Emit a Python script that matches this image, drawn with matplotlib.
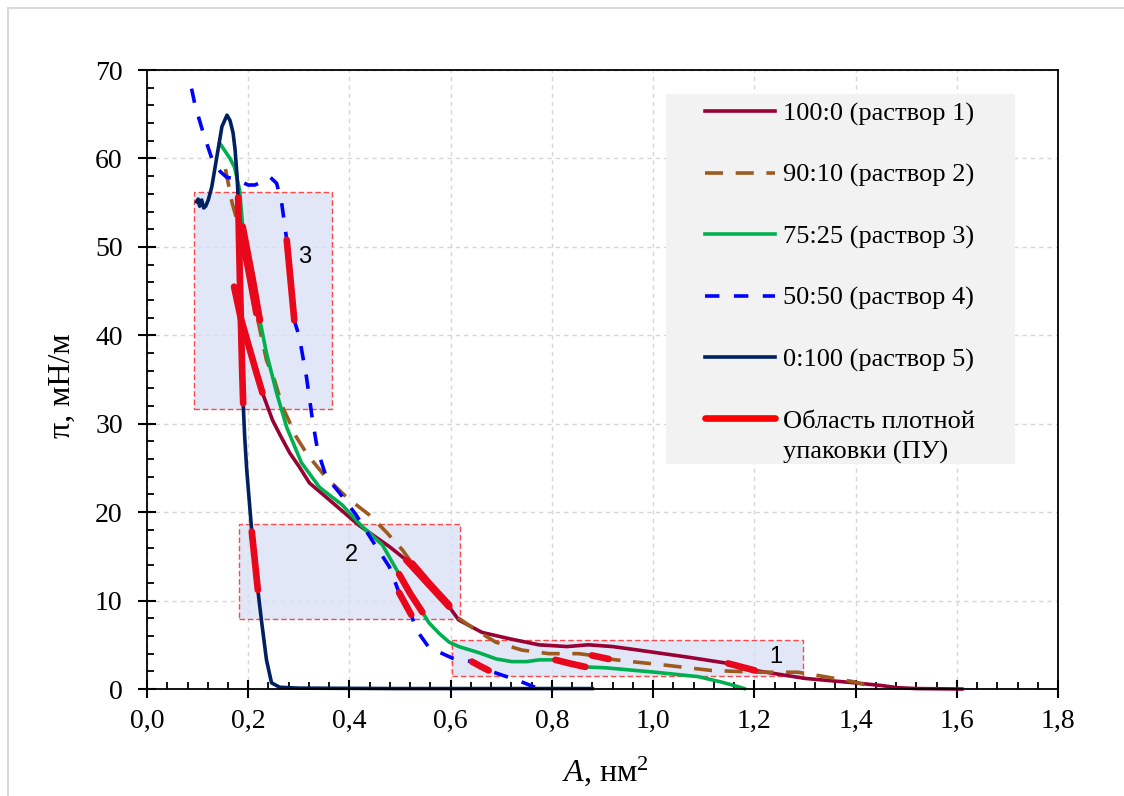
import matplotlib
matplotlib.use("Agg")
import numpy as np
import matplotlib.pyplot as plt
from matplotlib.patches import Rectangle
from matplotlib.lines import Line2D
from matplotlib.ticker import MultipleLocator, FuncFormatter

plt.rcParams['font.family'] = ['Liberation Serif', 'DejaVu Serif']
plt.rcParams['mathtext.fontset'] = 'custom'
plt.rcParams['mathtext.rm'] = 'Liberation Serif'
plt.rcParams['mathtext.it'] = 'Liberation Serif:italic'

# isotherms: area per molecule A (nm2) vs surface pressure pi (mN/m)
a1 = [0.172, 0.185, 0.200, 0.215, 0.228, 0.248, 0.265, 0.282, 0.300, 0.321,
      0.360, 0.419, 0.479, 0.512, 0.560, 0.597, 0.616, 0.662, 0.715, 0.774,
      0.830, 0.872, 0.920, 0.971, 1.069, 1.148, 1.201, 1.300, 1.398, 1.450,
      1.483, 1.520, 1.610]
p1 = [45.5, 42.0, 39.0, 36.0, 33.5, 30.4, 28.5, 26.7, 25.2, 23.3,
      21.4, 18.5, 16.1, 14.6, 11.6, 9.3, 7.8, 6.4, 5.7, 5.0,
      4.8, 5.0, 4.8, 4.4, 3.6, 2.9, 2.1, 1.2, 0.7, 0.4,
      0.15, 0.05, 0.0]

a2 = [0.155, 0.168, 0.185, 0.200, 0.216, 0.236, 0.252, 0.268, 0.295, 0.317,
      0.354, 0.396, 0.439, 0.472, 0.505, 0.524, 0.560, 0.597, 0.616, 0.649,
      0.689, 0.741, 0.794, 0.853, 0.879, 0.912, 0.957, 1.024, 1.115, 1.207,
      1.286, 1.339, 1.398, 1.443]
p2 = [58.8, 55.0, 51.5, 47.5, 42.5, 37.2, 34.9, 31.9, 28.5, 26.5,
      23.9, 21.6, 19.7, 17.8, 15.7, 14.2, 11.8, 9.5, 8.0, 6.7,
      5.3, 4.4, 4.0, 4.0, 3.8, 3.4, 3.1, 2.7, 2.1, 1.9,
      1.9, 1.4, 0.8, 0.1]

a3 = [0.144, 0.164, 0.173, 0.183, 0.189, 0.209, 0.223, 0.236, 0.256, 0.276,
      0.305, 0.341, 0.386, 0.423, 0.465, 0.498, 0.520, 0.544, 0.557, 0.577,
      0.597, 0.616, 0.656, 0.690, 0.721, 0.750, 0.775, 0.807, 0.835, 0.866,
      0.906, 1.004, 1.089, 1.134, 1.160, 1.180]
p3 = [61.7, 60.0, 59.0, 56.4, 52.3, 46.3, 41.7, 38.0, 33.5, 29.6,
      25.6, 22.8, 20.8, 18.5, 16.3, 13.0, 10.8, 8.7, 7.5, 6.3,
      5.3, 4.8, 4.1, 3.4, 3.1, 3.1, 3.3, 3.3, 2.9, 2.5,
      2.4, 1.9, 1.4, 0.8, 0.4, 0.05]

a4 = [0.088, 0.095, 0.111, 0.128, 0.145, 0.157, 0.177, 0.200, 0.213, 0.228,
      0.243, 0.256, 0.266, 0.276, 0.284, 0.291, 0.301, 0.315, 0.327, 0.337,
      0.354, 0.380, 0.413, 0.445, 0.479, 0.498, 0.522, 0.532, 0.557, 0.580,
      0.603, 0.622, 0.642, 0.658, 0.675, 0.700, 0.721, 0.745, 0.762, 0.768]
p4 = [67.9, 66.0, 62.9, 60.0, 58.5, 57.9, 57.6, 57.0, 57.0, 57.4,
      57.9, 57.2, 55.0, 50.8, 46.0, 41.7, 39.8, 35.3, 30.4, 27.0,
      24.0, 22.2, 19.7, 16.8, 13.8, 10.9, 8.4, 6.7, 4.7, 4.1,
      3.5, 3.3, 3.1, 2.6, 2.1, 1.6, 1.2, 0.7, 0.3, 0.2]

a5 = [0.098, 0.101, 0.104, 0.108, 0.112, 0.116, 0.121, 0.128, 0.138, 0.148,
      0.158, 0.164, 0.170, 0.174, 0.178, 0.180, 0.184, 0.188, 0.190, 0.193,
      0.197, 0.207, 0.213, 0.219, 0.226, 0.236, 0.246, 0.262, 0.300, 0.500,
      0.880]
p5 = [55.1, 55.4, 54.6, 55.3, 54.4, 54.6, 55.3, 56.8, 60.2, 63.6,
      64.9, 64.3, 62.9, 61.0, 57.9, 55.6, 45.0, 36.0, 32.3, 28.5,
      24.8, 17.8, 14.5, 11.2, 7.8, 3.3, 0.7, 0.2, 0.1, 0.05,
      0.05]

series_a = [a1, a2, a3, a4, a5]
series_p = [p1, p2, p3, p4, p5]
labels = ["100:0 (раствор 1)", "90:10 (раствор 2)", "75:25 (раствор 3)",
          "50:50 (раствор 4)", "0:100 (раствор 5)"]
colors = ["#990033", "#9E5A1E", "#00B050", "#0000FF", "#002060"]
dash_styles = [None, (5, 3.5), None, (4, 4), None]

# close packing parts of each isotherm: series index, A from, A to
pu_series = [0, 0, 0, 1, 1, 1, 2, 2, 2, 3, 3, 3, 4, 4]
pu_from = [0.171, 0.511, 1.147, 0.184, 0.523, 0.878, 0.185, 0.497, 0.806,
           0.275, 0.497, 0.641, 0.179, 0.206]
pu_to = [0.229, 0.598, 1.202, 0.217, 0.598, 0.913, 0.224, 0.545, 0.867,
         0.292, 0.523, 0.676, 0.191, 0.220]

# shaded regions 1..3
zone_names = ["1", "2", "3"]
zone_a = [(0.603, 1.296), (0.181, 0.618), (0.093, 0.366)]
zone_p = [(1.5, 5.5), (7.9, 18.7), (31.7, 56.2)]
zone_label_a = [1.243, 0.404, 0.311]
zone_label_p = [3.6, 15.2, 48.9]

fig = plt.figure(figsize=(11.24, 7.96), dpi=100)
ax = fig.add_axes([0.1308, 0.1344, 0.8105, 0.7776])

for (x0, x1), (y0, y1) in zip(zone_a, zone_p):
    ax.add_patch(Rectangle((x0, y0), x1 - x0, y1 - y0, facecolor="#DAE1F4",
                           edgecolor="#FF2020", lw=1.0, ls=(0, (4, 2)),
                           alpha=0.8, zorder=1))
for name, xa, ya in zip(zone_names, zone_label_a, zone_label_p):
    ax.text(xa, ya, name, fontsize=17, family="Liberation Sans",
            ha="center", va="center", zorder=4)

handles = []
for a, p, c, d, lab in zip(series_a, series_p, colors, dash_styles, labels):
    ln, = ax.plot(a, p, color=c, lw=2.6, clip_on=False, zorder=2, label=lab)
    if d is not None:
        ln.set_dashes(d)
    handles.append(ln)

for s, f, t in zip(pu_series, pu_from, pu_to):
    a = np.array(series_a[s])
    p = np.array(series_p[s])
    m = (a >= f) & (a <= t)
    ax.plot(a[m], p[m], color="#E8071B", lw=4.8, solid_capstyle="round",
            zorder=3)

ax.set_xlim(0, 1.8)
ax.set_ylim(0, 70)
ax.xaxis.set_major_locator(MultipleLocator(0.2))
ax.xaxis.set_minor_locator(MultipleLocator(0.04))
ax.yaxis.set_major_locator(MultipleLocator(10))
ax.yaxis.set_minor_locator(MultipleLocator(2))
ax.xaxis.set_major_formatter(FuncFormatter(lambda v, pos: f"{v:.1f}".replace(".", ",")))
ax.tick_params(which="major", direction="inout", length=13, width=1.5,
               labelsize=20)
ax.tick_params(which="minor", direction="in", length=5, width=1.3)
ax.tick_params(axis="y", which="major", pad=11)
ax.tick_params(axis="x", which="major", pad=8)
for sp in ax.spines.values():
    sp.set_linewidth(1.3)
ax.grid(True, which="major", color="#D6D6D6", lw=1.0, ls=(0, (3, 3)), zorder=0)
ax.set_axisbelow(True)

ax.set_xlabel(r"$A$, нм$^{2}$", fontsize=23)
ax.set_ylabel("π, мН/м", fontsize=23)
ax.xaxis.set_label_coords(0.503, -0.105)
ax.yaxis.set_label_coords(-0.077, 0.49)

# legend background
ax.add_patch(Rectangle((0.570, 0.363), 0.383, 0.598, transform=ax.transAxes,
                       facecolor="#F2F2F2", edgecolor="none", zorder=5))
handles.append(Line2D([0], [0], color="#FF0000", lw=4.8,
                      solid_capstyle="round", label="Область плотной"))
leg = ax.legend(handles=handles, loc="upper left",
                bbox_to_anchor=(0.6125, 0.948), frameon=False, fontsize=19,
                handlelength=2.65, handletextpad=0.3, labelspacing=1.42,
                borderpad=0, borderaxespad=0)
leg.set_zorder(6)

fig.canvas.draw()
bb = leg.get_texts()[-1].get_window_extent()
W, H = fig.bbox.width, fig.bbox.height
fig.text(bb.x0 / W, (bb.y0 - 8) / H, "упаковки (ПУ)", fontsize=19,
         ha="left", va="top", zorder=7)

# outer light frame
fig.add_artist(Rectangle((8 / 1124, -0.1), 1.2, 1.1 - 8 / 796,
                         transform=fig.transFigure, fill=False,
                         edgecolor="#D9D9D9", lw=1.5))

fig.savefig("out.png", dpi=100)
